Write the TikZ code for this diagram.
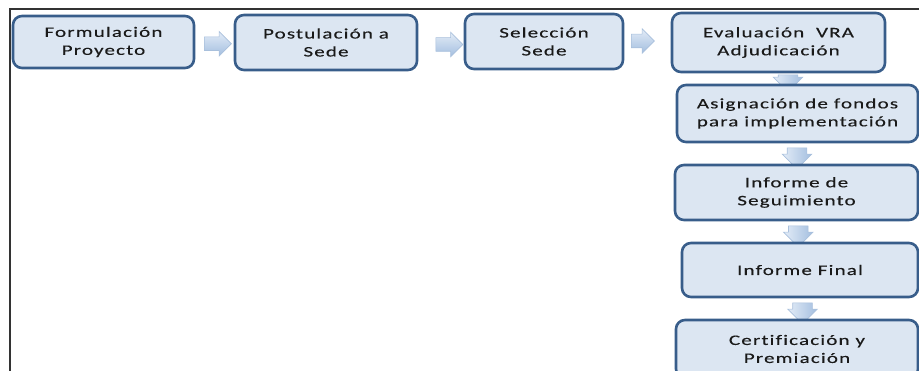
\documentclass[tikz,border=0pt]{standalone}
\usepackage{fontspec}
\setmainfont{Carlito}[FakeStretch=1.45, LetterSpace=8, FakeBold=0.35, Ligatures={NoCommon}]
\usetikzlibrary{shapes.arrows,calc,backgrounds}
\definecolor{boxfill}{HTML}{DCE6F2}
\definecolor{boxline}{HTML}{385D8A}
\definecolor{arrtop}{HTML}{E3ECF7}
\definecolor{arrbot}{HTML}{A3BEDF}
\definecolor{arrline}{HTML}{A9C0DC}
\definecolor{txt}{HTML}{1A1A1A}
\definecolor{frameline}{HTML}{333333}
\tikzset{
  stagebox/.style={draw=boxline, line width=2.6pt, fill=boxfill, rounded corners=9pt,
    align=center, text=txt, font=\fontsize{14.5}{18}\selectfont, inner sep=0pt},
  rarrow/.style={single arrow, draw=arrline, line width=0.6pt,
    top color=arrtop, bottom color=arrbot,
    minimum height=27pt, inner xsep=0pt, inner ysep=6.5pt, single arrow head extend=5.5pt},
  darrow/.style={single arrow, draw=arrline, line width=0.6pt,
    left color=arrtop, right color=arrbot,
    shape border rotate=270, minimum height=21pt, inner xsep=9.5pt, inner ysep=0pt,
    single arrow head extend=5pt},
  frameedge/.style={draw=frameline, line width=1.6pt}
}
\begin{document}
\begin{tikzpicture}[x=1pt, y=-1pt]
\useasboundingbox (0,0) rectangle (919,371);
\clip (0,0) rectangle (919,371);
\coordinate (fr0) at (10,9);
\coordinate (fr1) at (930,9);
\coordinate (fr2) at (10,380);
\draw[frameedge] (fr1) -- (fr0) -- (fr2);
% boxes
\node[stagebox, minimum width=181pt, minimum height=52pt] (b1) at (103.5,42) {Formulación\\Proyecto};
\node[stagebox, minimum width=182pt, minimum height=55pt] (b2) at (326,42.5) {Postulación a\\Sede};
\node[stagebox, minimum width=158pt, minimum height=55pt] (b3) at (544,41.5) {Selección\\Sede};
\node[stagebox, minimum width=213pt, minimum height=59pt] (b4) at (778.5,42.5) {Evaluación \ VRA\\Adjudicación};
\node[stagebox, minimum width=241pt, minimum height=57pt] (b5) at (797.5,113.5) {Asignación de fondos\\para implementación};
\node[stagebox, minimum width=243pt, minimum height=55pt] (b6) at (796.5,192.5) {Informe de\\Seguimiento};
\node[stagebox, minimum width=236pt, minimum height=54pt] (b7) at (800,270) {Informe Final};
\node[stagebox, minimum width=242pt, minimum height=58pt] (b8) at (797,349) {Certificación y\\Premiación};
% arrows
\node[rarrow] (a1) at ($(b1.east)!0.5!(b2.west)+(0,1.5)$) {};
\node[rarrow] (a2) at ($(b2.east)!0.5!(b3.west)+(5,2.5)$) {};
\node[rarrow, minimum height=23pt] (a3) at ($(b3.east)!0.5!(b4.west)+(-8,-1)$) {};
\begin{scope}[on background layer]
\node[darrow, minimum height=17pt] (a4) at ($(b4.south)!0.5!(b5.north)$) {};
\node[darrow] (a5) at ($(b5.south)!0.5!(b6.north)$) {};
\node[darrow] (a6) at ($(b6.south)!0.5!(b7.north)$) {};
\node[darrow] (a7) at ($(b7.south)!0.5!(b8.north)+(4,0)$) {};
\end{scope}
\end{tikzpicture}
\end{document}
